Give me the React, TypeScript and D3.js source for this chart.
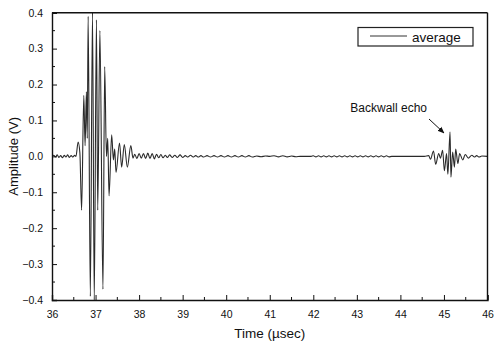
import React, { useRef, useEffect } from 'react';
import * as d3 from 'd3';

type Pt = [number, number];

// quiet baseline before the main pulse
const preBaseline: Pt[] = [
  [36.0, 0], [36.04, 0.003], [36.08, -0.002], [36.12, 0.004], [36.16, -0.003],
  [36.2, 0.002], [36.24, -0.004], [36.28, 0.003], [36.32, -0.002], [36.36, 0.004],
  [36.4, -0.003], [36.44, 0.002], [36.48, -0.002], [36.52, 0.003],
];

// front surface pulse
const mainBurst: Pt[] = [
  [36.55, 0.0], [36.6, 0.04], [36.64, 0.01], [36.68, -0.15], [36.73, 0.17],
  [36.76, 0.03], [36.79, 0.18], [36.81, 0.05], [36.83, 0.39], [36.88, -0.39],
  [36.93, 0.4], [36.97, -0.4], [37.02, 0.38], [37.05, -0.15], [37.1, 0.35],
  [37.17, -0.37], [37.21, 0.25], [37.25, 0.0], [37.28, 0.05], [37.31, -0.11],
  [37.37, 0.06], [37.41, -0.01], [37.44, 0.02], [37.47, -0.045], [37.55, 0.037],
  [37.6, -0.03], [37.66, 0.033], [37.73, -0.03], [37.81, 0.03], [37.86, -0.005],
];

// ringing after the pulse
const ringDown: Pt[] = [
  [37.9, 0.006], [37.95, -0.006], [38.0, 0.008], [38.05, -0.005], [38.1, 0.008],
  [38.15, -0.006], [38.2, 0.009], [38.25, -0.006], [38.3, 0.008], [38.35, -0.007],
  [38.4, 0.006], [38.45, -0.004], [38.5, 0.005], [38.55, -0.004], [38.6, 0.003],
  [38.65, -0.003], [38.7, 0.004], [38.76, -0.003], [38.82, 0.003], [38.88, -0.003],
  [38.94, 0.004], [39.0, -0.003], [39.06, 0.002], [39.12, -0.002], [39.18, 0.003],
  [39.24, -0.002], [39.3, 0.002], [39.36, -0.002], [39.42, 0.002], [39.48, -0.002],
  [39.56, 0.002], [39.64, -0.002], [39.72, 0.002], [39.8, -0.002], [39.88, 0.002],
  [39.96, -0.002], [40.04, 0.002], [40.12, -0.002], [40.2, 0.002], [40.28, -0.002],
  [40.36, 0.002], [40.44, -0.002], [40.52, 0.002], [40.6, -0.002], [40.7, 0.001],
  [40.8, -0.001], [40.9, 0.001], [41.0, 0],
];

const quietRipple: Pt[] = [
  [41.1, 0.0015], [41.2, -0.0015], [41.3, 0.0015], [41.4, -0.0015], [41.5, 0.001],
  [41.6, -0.001], [41.7, 0], [41.95, 0], [42.0, 0.0015], [42.06, -0.0015],
  [42.12, 0.0015], [42.18, -0.0015], [42.24, 0.0015], [42.3, -0.0015], [42.36, 0.0015],
  [42.42, -0.0015], [42.48, 0.0015], [42.54, -0.0015], [42.6, 0.0015], [42.66, -0.0015],
  [42.72, 0.0015], [42.78, -0.0015], [42.84, 0.0015], [42.9, -0.0015], [42.96, 0.0015],
  [43.02, -0.0015], [43.08, 0.0015], [43.14, -0.0015], [43.2, 0.0015], [43.26, -0.0015],
  [43.32, 0.0015], [43.38, -0.0015], [43.44, 0.0015], [43.5, -0.0015], [43.56, 0.0015],
  [43.62, -0.0015], [43.68, 0.0015], [43.74, -0.0015], [43.8, 0], [44.55, 0],
];

// backwall echo
const echo: Pt[] = [
  [44.65, 0.002], [44.69, -0.008], [44.76, 0.015], [44.81, -0.022], [44.88, 0.008],
  [44.92, -0.005], [44.97, 0.017], [45.01, -0.04], [45.06, 0.008], [45.09, -0.05],
  [45.14, 0.068], [45.16, -0.058], [45.2, 0.012], [45.24, -0.03], [45.27, 0.02],
  [45.32, -0.02], [45.36, 0.008], [45.43, -0.01], [45.49, 0.005], [45.56, -0.005],
  [45.64, 0.003], [45.7, -0.002], [45.75, 0.002], [45.81, -0.002], [45.87, 0.001],
  [46.0, 0],
];

const xTicks = [36, 37, 38, 39, 40, 41, 42, 43, 44, 45, 46];
const yTicks = [-0.4, -0.3, -0.2, -0.1, 0.0, 0.1, 0.2, 0.3, 0.4];

const App: React.FC = () => {
  const svgRef = useRef<SVGSVGElement>(null);

  useEffect(() => {
    if (!svgRef.current) return;
    const svg = d3.select(svgRef.current);
    svg.selectAll('*').remove();

    const left = 52, right = 487.5, top = 12.7, bottom = 300;
    const font = 'Liberation Sans, Arial, sans-serif';

    const x = d3.scaleLinear().domain([36, 46]).range([left, right]);
    const y = d3.scaleLinear().domain([-0.4, 0.4]).range([bottom, top]);

    svg.append('clipPath').attr('id', 'plotclip')
      .append('rect').attr('x', left).attr('y', top - 1)
      .attr('width', right - left).attr('height', bottom - top + 2);

    const signal = [...preBaseline, ...mainBurst, ...ringDown, ...quietRipple, ...echo];
    const line = d3.line<Pt>()
      .x(d => x(d[0]))
      .y(d => y(d[1]))
      .curve(d3.curveMonotoneX);

    svg.append('path')
      .datum(signal)
      .attr('clip-path', 'url(#plotclip)')
      .attr('fill', 'none')
      .attr('stroke', '#2a2a2a')
      .attr('stroke-width', 1.1)
      .attr('d', line);

    // minor ticks
    const minorX = d3.range(36.5, 46, 1);
    svg.append('g').selectAll('line').data(minorX).join('line')
      .attr('x1', d => x(d)).attr('x2', d => x(d))
      .attr('y1', bottom).attr('y2', bottom - 3)
      .attr('stroke', '#111');
    const minorY = d3.range(-0.35, 0.4, 0.1);
    svg.append('g').selectAll('line').data(minorY).join('line')
      .attr('x1', left).attr('x2', left + 3)
      .attr('y1', d => y(d)).attr('y2', d => y(d))
      .attr('stroke', '#111');

    const xAxis = svg.append('g')
      .attr('transform', `translate(0,${bottom})`)
      .call(d3.axisBottom(x).tickValues(xTicks).tickSize(-5).tickPadding(11).tickFormat(d3.format('d')));
    const yAxis = svg.append('g')
      .attr('transform', `translate(${left},0)`)
      .call(d3.axisLeft(y).tickValues(yTicks).tickSize(-5).tickPadding(9).tickFormat(d3.format('.1f')));

    [xAxis, yAxis].forEach(a => {
      a.selectAll('text').attr('fill', '#111').style('font-family', font).style('font-size', '10.5px');
      a.selectAll('line').attr('stroke', '#111');
      a.select('path.domain').attr('stroke', '#111').attr('stroke-width', 1.4);
    });

    // top and right frame
    svg.append('line').attr('x1', left).attr('x2', right).attr('y1', top).attr('y2', top)
      .attr('stroke', '#111').attr('stroke-width', 1.6);
    svg.append('line').attr('x1', right).attr('x2', right).attr('y1', top).attr('y2', bottom)
      .attr('stroke', '#111').attr('stroke-width', 1.4);

    // axis titles
    svg.append('text')
      .attr('x', (left + right) / 2).attr('y', 338)
      .attr('text-anchor', 'middle')
      .style('font-family', font).style('font-size', '13.5px').attr('fill', '#111')
      .text('Time (µsec)');
    svg.append('text')
      .attr('transform', `translate(18,${(top + bottom) / 2}) rotate(-90)`)
      .attr('text-anchor', 'middle')
      .style('font-family', font).style('font-size', '13px').attr('fill', '#111')
      .text('Amplitude (V)');

    // legend
    const legend = svg.append('g');
    legend.append('rect')
      .attr('x', 358).attr('y', 27.5).attr('width', 115).attr('height', 18.5)
      .attr('fill', 'white').attr('stroke', '#222').attr('stroke-width', 1.2);
    legend.append('line')
      .attr('x1', 370).attr('x2', 407).attr('y1', 36).attr('y2', 36)
      .attr('stroke', '#333').attr('stroke-width', 1);
    legend.append('text')
      .attr('x', 412).attr('y', 41.5)
      .style('font-family', font).style('font-size', '13.5px').attr('fill', '#111')
      .text('average');

    // annotation
    svg.append('defs').append('marker')
      .attr('id', 'arrowhead').attr('viewBox', '0 0 10 10')
      .attr('refX', 9).attr('refY', 5)
      .attr('markerWidth', 7).attr('markerHeight', 7)
      .attr('orient', 'auto')
      .append('path').attr('d', 'M0,1 L10,5 L0,9 Z').attr('fill', '#111');
    svg.append('text')
      .attr('x', 427).attr('y', 112)
      .attr('text-anchor', 'end')
      .style('font-family', font).style('font-size', '12px').attr('fill', '#111')
      .text('Backwall echo');
    svg.append('line')
      .attr('x1', 429).attr('y1', 119).attr('x2', 444).attr('y2', 133)
      .attr('stroke', '#111').attr('stroke-width', 1)
      .attr('marker-end', 'url(#arrowhead)');
  }, []);

  return (
    <svg ref={svgRef} width={494} height={341}
      style={{ position: 'absolute', left: 0, top: 0, background: 'white' }} />
  );
};

export default App;
